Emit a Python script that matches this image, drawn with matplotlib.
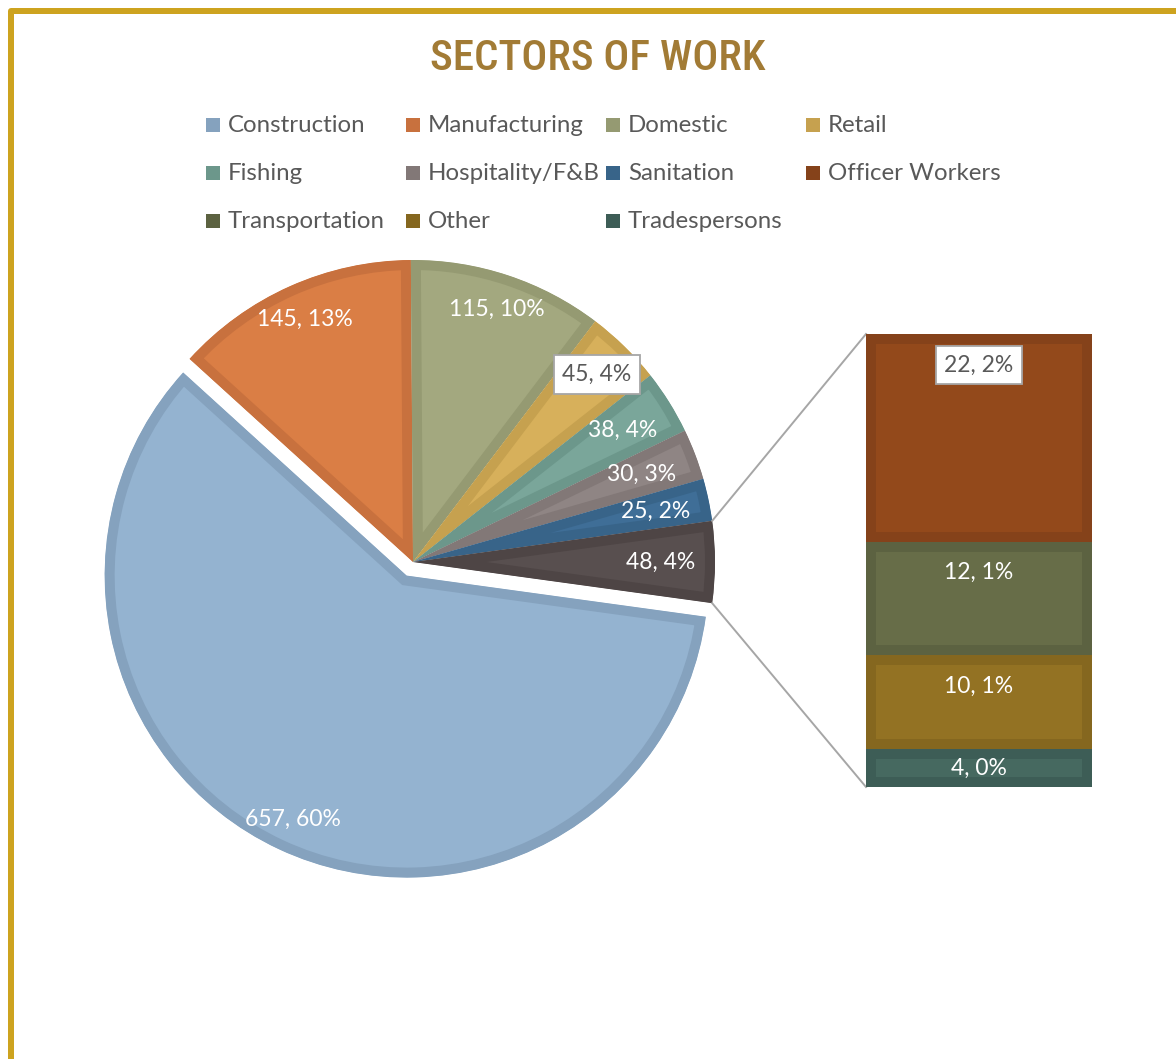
import matplotlib
matplotlib.use("Agg")
import matplotlib.pyplot as plt
from matplotlib.lines import Line2D
from matplotlib.patches import Rectangle
import numpy as np

# ---- data -------------------------------------------------------------
pie_names = ["Construction", "Manufacturing", "Domestic", "Retail",
             "Fishing", "Hospitality/F&B", "Sanitation"]
pie_counts = [657, 145, 115, 45, 38, 30, 25]

bar_names = ["Officer Workers", "Transportation", "Other", "Tradespersons"]
bar_counts = [22, 12, 10, 4]

pie_fill = ["#94B3D0", "#DA7E45", "#A3A87F", "#D7B05B", "#7AA69A", "#8F8584", "#3F6E97"]
pie_edge = ["#85A2BE", "#C8713E", "#959A72", "#C6A14F", "#6C978B", "#827877", "#386489"]
other_fill, other_edge = "#584F4F", "#4E4545"
bar_fill = ["#93491B", "#676D48", "#937223", "#466960"]
bar_edge = ["#85421A", "#5C6241", "#85671F", "#3D5D56"]

title = "SECTORS OF WORK"

# ---- helpers ----------------------------------------------------------
W, H = 1176, 1059
DPI = 100
PX = 72.0 / DPI  # points per pixel

def Y(y):
    return H - y

def excel_percents(values):
    """Whole-number percentages that add up to 100 (largest remainder)."""
    v = np.asarray(values, dtype=float)
    raw = v / v.sum() * 100
    base = np.floor(raw)
    rem = raw - base
    short = int(round(100 - base.sum()))
    order = np.argsort(-rem)
    base[order[:short]] += 1
    return base.astype(int)

LABEL_FONT = ["Lato", "DejaVu Sans"]
TITLE_FONT = ["Roboto Condensed", "Roboto", "DejaVu Sans"]
TEXT_GREY = "#595959"
LABEL_SIZE = 16.5
LEGEND_SIZE = 17.3

fig = plt.figure(figsize=(W / DPI, H / DPI), dpi=DPI)
ax = fig.add_axes([0, 0, 1, 1])

# ---- pie --------------------------------------------------------------
other_total = sum(bar_counts)
values = pie_counts + [other_total]
fills = pie_fill + [other_fill]
edges = pie_edge + [other_edge]
all_pct = excel_percents(pie_counts + bar_counts)
pie_pct = list(all_pct[:len(pie_counts)]) + [int(sum(all_pct[len(pie_counts):]))]
bar_pct = list(all_pct[len(pie_counts):])

total = float(sum(values))
other_span = other_total / total * 360.0
start = -other_span / 2.0

cx, cy, R = 413, Y(562), 302
explode = [15] + [0] * (len(values) - 1)
wedges, _ = ax.pie(values, colors=fills, startangle=start, counterclock=False,
                   center=(cx, cy), radius=R, explode=explode,
                   wedgeprops=dict(linewidth=20 * PX))
# darker inner band: a wide outline clipped to the wedge itself
for w, e in zip(wedges, edges):
    w.set_edgecolor(e)
    w.set_clip_on(True)
    w.set_clip_path(w)

label_r = [0.89, 0.88, 0.88, 0.87, 0.82, 0.81, 0.82, 0.82]
for i, w in enumerate(wedges):
    mid = np.deg2rad((w.theta1 + w.theta2) / 2.0)
    wx, wy = w.center
    lx = wx + label_r[i] * R * np.cos(mid)
    ly = wy + label_r[i] * R * np.sin(mid)
    txt = f"{values[i]}, {pie_pct[i]}%"
    if i == 3:
        ax.text(lx, ly, txt, ha="center", va="center", fontsize=LABEL_SIZE,
                family=LABEL_FONT, color=TEXT_GREY, zorder=6,
                bbox=dict(boxstyle="square,pad=0.38", fc="white",
                          ec="#A6A6A6", lw=1.3))
    else:
        ax.text(lx, ly, txt, ha="center", va="center", fontsize=LABEL_SIZE,
                family=LABEL_FONT, color="white", zorder=6)

# ---- stacked bar of the "other" slice ---------------------------------
bar_left, bar_right = 866, 1092
bar_top, bar_bottom = Y(334), Y(787)
scale = (bar_top - bar_bottom) / other_total
heights = [v * scale for v in bar_counts]
tops = bar_top - np.concatenate([[0], np.cumsum(heights)[:-1]])
bottoms = tops - np.array(heights)
bar_cx = (bar_left + bar_right) / 2.0
bars = ax.bar([bar_cx] * len(bar_counts), heights, bottom=bottoms,
              width=bar_right - bar_left, color=bar_fill,
              linewidth=20 * PX, zorder=3)
for b, e in zip(bars, bar_edge):
    b.set_edgecolor(e)
    b.set_clip_on(True)
    b.set_clip_path(b)

for i, (top, h) in enumerate(zip(tops, heights)):
    ly = top - min(31, h / 2.0)
    txt = f"{bar_counts[i]}, {bar_pct[i]}%"
    if i == 0:
        ax.text(bar_cx, ly, txt, ha="center", va="center", fontsize=LABEL_SIZE,
                family=LABEL_FONT, color=TEXT_GREY, zorder=6,
                bbox=dict(boxstyle="square,pad=0.38", fc="white",
                          ec="#A6A6A6", lw=1.3))
    else:
        ax.text(bar_cx, ly, txt, ha="center", va="center", fontsize=LABEL_SIZE,
                family=LABEL_FONT, color="white", zorder=6)

# connector lines from the "other" slice to the bar
oth = wedges[-1]
for ang, by in ((oth.theta2, bar_top), (oth.theta1, bar_bottom)):
    a = np.deg2rad(ang)
    px, py = cx + R * np.cos(a), cy + R * np.sin(a)
    ax.plot([px, bar_left], [py, by], color="#A6A6A6", lw=1.4, zorder=2)

# ---- legend -----------------------------------------------------------
legend_names = pie_names + bar_names
legend_colors = pie_edge + bar_edge
for i, (name, col) in enumerate(zip(legend_names, legend_colors)):
    r, c = divmod(i, 4)
    x0 = 206 + 200 * c
    y0 = Y(125 + 48 * r)
    ax.add_patch(Rectangle((x0, y0 - 7), 14, 14, facecolor=col,
                           edgecolor="none", zorder=5))
    ax.text(x0 + 22, y0, name, ha="left", va="center", fontsize=LEGEND_SIZE,
            family=LABEL_FONT, color=TEXT_GREY, zorder=5)

# ---- title ------------------------------------------------------------
ax.text(598, Y(58), title, ha="center", va="center", fontsize=31,
        fontweight="medium", family=TITLE_FONT, color="#A27B35", zorder=5)

ax.set_xlim(0, W)
ax.set_ylim(0, H)
ax.set_aspect("auto")
ax.axis("off")

# gold frame along the top and left edges
frame = Line2D([11, 11, W + 10], [-10, Y(11), Y(11)], color="#CDA31F",
               lw=6 * PX, solid_joinstyle="round", transform=None)
fig.add_artist(frame)

fig.savefig("out.png", dpi=DPI, facecolor="white")
